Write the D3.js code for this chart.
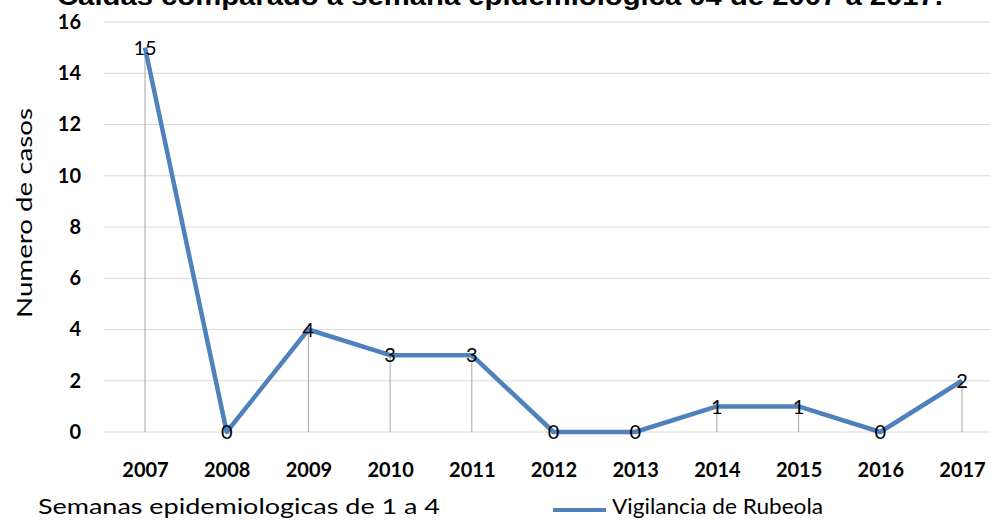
<!DOCTYPE html>
<html>
<head>
<meta charset="utf-8">
<script src="https://cdn.jsdelivr.net/npm/d3@7"></script>
<style>
  html, body { margin: 0; padding: 0; background: #fff; }
  svg { display: block; }
</style>
</head>
<body>
<svg id="chart" width="990" height="521"></svg>
<script>
// datos
const years = ['2007', '2008', '2009', '2010', '2011', '2012', '2013', '2014', '2015', '2016', '2017'];
const casos = [15, 0, 4, 3, 3, 0, 0, 1, 1, 0, 2];
const yTicks = [0, 2, 4, 6, 8, 10, 12, 14, 16];

const titulo = 'Caidas comparado a semana epidemiologica 04 de 2007 a 2017.';
const serieNombre = 'Vigilancia de Rubeola';

const svg = d3.select('#chart');
const font = 'Lato, "Open Sans", sans-serif';

const x = d3.scalePoint().domain(years).range([145, 962]);
const y = d3.scaleLinear().domain([0, 16]).range([432, 22]);

// título (recortado arriba, como en el original)
svg.append('text')
  .attr('x', 57).attr('y', 5)
  .attr('font-family', '"Liberation Sans", Arial, sans-serif')
  .attr('font-weight', 'bold')
  .attr('font-size', 25)
  .attr('textLength', 886)
  .attr('lengthAdjust', 'spacingAndGlyphs')
  .text(titulo);

// líneas de cuadrícula
svg.append('g')
  .selectAll('line')
  .data(yTicks)
  .join('line')
  .attr('x1', 104).attr('x2', 990)
  .attr('y1', d => y(d)).attr('y2', d => y(d))
  .attr('stroke', '#d9d9d9')
  .attr('stroke-width', 1);

// eje Y
const yAxis = svg.append('g')
  .attr('transform', 'translate(81,0)')
  .call(d3.axisLeft(y).tickValues(yTicks).tickSize(0).tickPadding(0));
yAxis.select('.domain').remove();
yAxis.selectAll('text')
  .attr('font-family', font)
  .attr('font-weight', 'bold')
  .attr('font-size', 20)
  .attr('fill', '#000');

// eje X
const xAxis = svg.append('g')
  .attr('transform', 'translate(0,463)')
  .call(d3.axisBottom(x).tickSize(0).tickPadding(0));
xAxis.select('.domain').remove();
xAxis.selectAll('text')
  .attr('font-family', font)
  .attr('font-weight', 'bold')
  .attr('font-size', 20)
  .attr('fill', '#000');

// líneas de caída
svg.append('g')
  .selectAll('line')
  .data(casos)
  .join('line')
  .attr('x1', (d, i) => x(years[i])).attr('x2', (d, i) => x(years[i]))
  .attr('y1', d => y(d)).attr('y2', y(0))
  .attr('stroke', '#a6a6a6')
  .attr('stroke-width', 1);

// serie
const line = d3.line()
  .x((d, i) => x(years[i]))
  .y(d => y(d));

svg.append('path')
  .datum(casos)
  .attr('d', line)
  .attr('fill', 'none')
  .attr('stroke', '#4f81bd')
  .attr('stroke-width', 4.5)
  .attr('stroke-linejoin', 'round');

// etiquetas de datos
svg.append('g')
  .selectAll('text')
  .data(casos)
  .join('text')
  .attr('x', (d, i) => x(years[i]))
  .attr('y', d => y(d))
  .attr('dy', '0.36em')
  .attr('text-anchor', 'middle')
  .attr('font-family', font)
  .attr('font-size', 20)
  .attr('fill', '#000')
  .text(d => d);

// títulos de ejes
svg.append('text')
  .attr('transform', 'translate(32,213) rotate(-90)')
  .attr('text-anchor', 'middle')
  .attr('font-family', font)
  .attr('font-size', 22)
  .attr('textLength', 210)
  .attr('lengthAdjust', 'spacingAndGlyphs')
  .text('Numero de casos');

svg.append('text')
  .attr('x', 38).attr('y', 514)
  .attr('font-family', font)
  .attr('font-size', 22)
  .attr('textLength', 402)
  .attr('lengthAdjust', 'spacingAndGlyphs')
  .text('Semanas epidemiologicas de 1 a 4');

// leyenda
svg.append('line')
  .attr('x1', 553).attr('x2', 606)
  .attr('y1', 510).attr('y2', 510)
  .attr('stroke', '#4f81bd')
  .attr('stroke-width', 4);
svg.append('text')
  .attr('x', 612).attr('y', 514)
  .attr('font-family', font)
  .attr('font-size', 21)
  .attr('textLength', 211)
  .attr('lengthAdjust', 'spacingAndGlyphs')
  .text(serieNombre);
</script>
</body>
</html>
